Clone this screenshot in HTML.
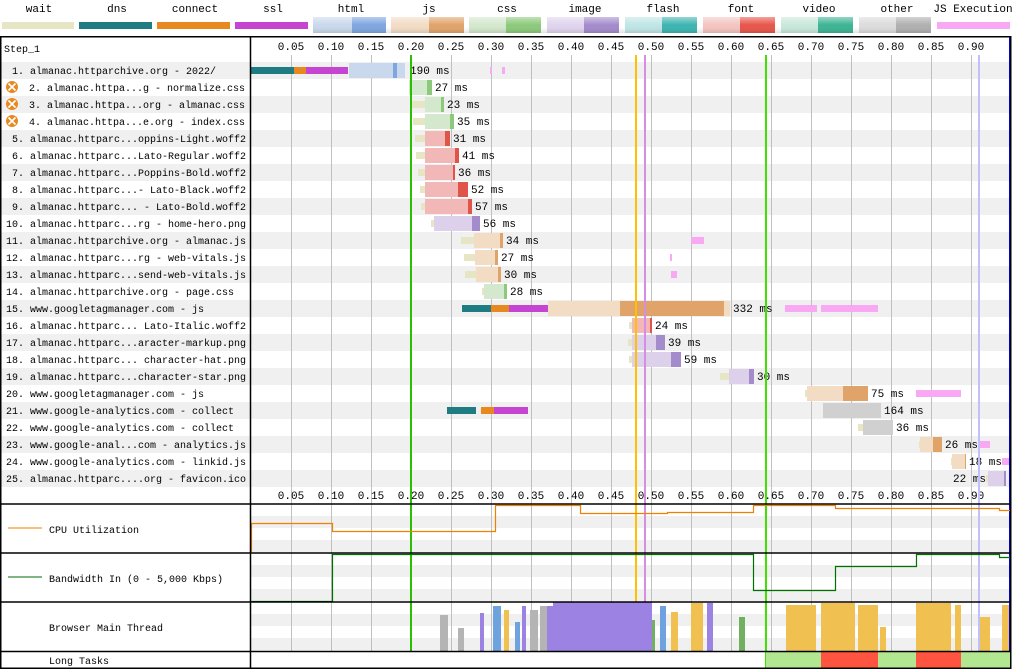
<!DOCTYPE html>
<html><head><meta charset="utf-8"><style>
body{margin:0;background:#fff;}
svg{display:block;font-family:"Liberation Mono","DejaVu Sans Mono",monospace;font-size:10px;}
</style></head><body>
<svg width="1012" height="669" viewBox="0 0 1012 669" xmlns="http://www.w3.org/2000/svg">
<defs>
<linearGradient id="g" x1="0" y1="0" x2="0" y2="1"><stop offset="0" stop-color="#fff" stop-opacity="0.45"/><stop offset="0.5" stop-color="#fff" stop-opacity="0"/><stop offset="1" stop-color="#000" stop-opacity="0.12"/></linearGradient>
</defs>
<!-- legend -->
<g text-anchor="middle" font-size="11">
<text x="39" y="12">wait</text><text x="117" y="12">dns</text><text x="195" y="12">connect</text><text x="273" y="12">ssl</text><text x="351" y="12">html</text><text x="429" y="12">js</text><text x="507" y="12">css</text><text x="585" y="12">image</text><text x="663" y="12">flash</text><text x="741" y="12">font</text><text x="819" y="12">video</text><text x="897" y="12">other</text><text x="973" y="12">JS Execution</text>
</g>
<rect x="2" y="22" width="72" height="7" fill="#e6e6c4"/>
<rect x="79" y="22" width="73" height="7" fill="#1f7c83"/>
<rect x="157" y="22" width="73" height="7" fill="#e8891f"/>
<rect x="235" y="22" width="73" height="7" fill="#c545d2"/>
<rect x="313" y="17" width="39" height="16" fill="#c9d8ec"/><rect x="352" y="17" width="34" height="16" fill="#7fa6e0"/>
<rect x="391" y="17" width="38" height="16" fill="#f2dcc4"/><rect x="429" y="17" width="35" height="16" fill="#e0a46a"/>
<rect x="469" y="17" width="37" height="16" fill="#d3e8cc"/><rect x="506" y="17" width="35" height="16" fill="#8cc97a"/>
<rect x="547" y="17" width="37" height="16" fill="#e0d4ee"/><rect x="584" y="17" width="35" height="16" fill="#a48bcc"/>
<rect x="625" y="17" width="37" height="16" fill="#bfe5e5"/><rect x="662" y="17" width="35" height="16" fill="#3cb4b0"/>
<rect x="703" y="17" width="37" height="16" fill="#f4c4c0"/><rect x="740" y="17" width="35" height="16" fill="#e8554a"/>
<rect x="781" y="17" width="37" height="16" fill="#c8e8dc"/><rect x="818" y="17" width="35" height="16" fill="#3cb494"/>
<rect x="859" y="17" width="37" height="16" fill="#dcdcdc"/><rect x="896" y="17" width="35" height="16" fill="#b0b0b0"/>
<rect x="937" y="22" width="73" height="7" fill="#f9a8f3"/>
<g><rect x="313" y="17" width="618" height="16" fill="url(#g)"/></g>

<!-- row stripes -->
<g fill="#f0f0f0">
<rect x="1" y="62" width="1009" height="17"/><rect x="1" y="96" width="1009" height="17"/><rect x="1" y="130" width="1009" height="17"/><rect x="1" y="164" width="1009" height="17"/><rect x="1" y="198" width="1009" height="17"/><rect x="1" y="232" width="1009" height="17"/><rect x="1" y="266" width="1009" height="17"/><rect x="1" y="300" width="1009" height="17"/><rect x="1" y="334" width="1009" height="17"/><rect x="1" y="368" width="1009" height="17"/><rect x="1" y="402" width="1009" height="17"/><rect x="1" y="436" width="1009" height="17"/><rect x="1" y="470" width="1009" height="17"/>
<rect x="251" y="516" width="759" height="12"/><rect x="251" y="540" width="759" height="12"/>
<rect x="251" y="565" width="759" height="12"/><rect x="251" y="589" width="759" height="12"/>
<rect x="251" y="614" width="759" height="12"/><rect x="251" y="638" width="759" height="12"/>
</g>
<!-- grid -->
<g stroke="#c0c0c0" stroke-width="1">
<path d="M291.5 55V651M331.5 55V651M371.5 55V651M411.5 55V651M451.5 55V651M491.5 55V651M531.5 55V651M571.5 55V651M611.5 55V651M651.5 55V651M691.5 55V651M731.5 55V651M771.5 55V651M811.5 55V651M851.5 55V651M891.5 55V651M931.5 55V651M971.5 55V651"/>
</g>
<g text-anchor="middle" font-size="11">
<text x="291" y="50">0.05</text><text x="331" y="50">0.10</text><text x="371" y="50">0.15</text><text x="411" y="50">0.20</text><text x="451" y="50">0.25</text><text x="491" y="50">0.30</text><text x="531" y="50">0.35</text><text x="571" y="50">0.40</text><text x="611" y="50">0.45</text><text x="651" y="50">0.50</text><text x="691" y="50">0.55</text><text x="731" y="50">0.60</text><text x="771" y="50">0.65</text><text x="811" y="50">0.70</text><text x="851" y="50">0.75</text><text x="891" y="50">0.80</text><text x="931" y="50">0.85</text><text x="971" y="50">0.90</text>
<text x="291" y="499">0.05</text><text x="331" y="499">0.10</text><text x="371" y="499">0.15</text><text x="411" y="499">0.20</text><text x="451" y="499">0.25</text><text x="491" y="499">0.30</text><text x="531" y="499">0.35</text><text x="571" y="499">0.40</text><text x="611" y="499">0.45</text><text x="651" y="499">0.50</text><text x="691" y="499">0.55</text><text x="731" y="499">0.60</text><text x="771" y="499">0.65</text><text x="811" y="499">0.70</text><text x="851" y="499">0.75</text><text x="891" y="499">0.80</text><text x="931" y="499">0.85</text><text x="971" y="499">0.90</text>
</g>

<!-- labels -->
<text x="4" y="52">Step_1</text>
<g>
<text x="12" y="74">1. almanac.httparchive.org - 2022/</text>
<text x="29" y="91">2. almanac.httpa...g - normalize.css</text>
<text x="29" y="108">3. almanac.httpa...org - almanac.css</text>
<text x="29" y="125">4. almanac.httpa...e.org - index.css</text>
<text x="12" y="142">5. almanac.httparc...oppins-Light.woff2</text>
<text x="12" y="159">6. almanac.httparc...Lato-Regular.woff2</text>
<text x="12" y="176">7. almanac.httparc...Poppins-Bold.woff2</text>
<text x="12" y="193">8. almanac.httparc...- Lato-Black.woff2</text>
<text x="12" y="210">9. almanac.httparc... - Lato-Bold.woff2</text>
<text x="6" y="227">10. almanac.httparc...rg - home-hero.png</text>
<text x="6" y="244">11. almanac.httparchive.org - almanac.js</text>
<text x="6" y="261">12. almanac.httparc...rg - web-vitals.js</text>
<text x="6" y="278">13. almanac.httparc...send-web-vitals.js</text>
<text x="6" y="295">14. almanac.httparchive.org - page.css</text>
<text x="6" y="312">15. www.googletagmanager.com - js</text>
<text x="6" y="329">16. almanac.httparc... Lato-Italic.woff2</text>
<text x="6" y="346">17. almanac.httparc...aracter-markup.png</text>
<text x="6" y="363">18. almanac.httparc... character-hat.png</text>
<text x="6" y="380">19. almanac.httparc...character-star.png</text>
<text x="6" y="397">20. www.googletagmanager.com - js</text>
<text x="6" y="414">21. www.google-analytics.com - collect</text>
<text x="6" y="431">22. www.google-analytics.com - collect</text>
<text x="6" y="448">23. www.google-anal...com - analytics.js</text>
<text x="6" y="465">24. www.google-analytics.com - linkid.js</text>
<text x="6" y="482">25. almanac.httparc....org - favicon.ico</text>
</g>
<g>
<circle cx="12" cy="87" r="6" fill="#e8891f"/><path d="M8.5 83.5l7 7M15.5 83.5l-7 7" stroke="#fff" stroke-width="1.6"/>
<circle cx="12" cy="104" r="6" fill="#e8891f"/><path d="M8.5 100.5l7 7M15.5 100.5l-7 7" stroke="#fff" stroke-width="1.6"/>
<circle cx="12" cy="121" r="6" fill="#e8891f"/><path d="M8.5 117.5l7 7M15.5 117.5l-7 7" stroke="#fff" stroke-width="1.6"/>
</g>

<!-- waits -->
<g fill="#e6e6c4">
<rect x="412" y="101" width="13" height="7"/><rect x="413" y="118" width="12" height="7"/><rect x="415" y="135" width="10" height="7"/><rect x="416" y="152" width="9" height="7"/><rect x="418" y="169" width="7" height="7"/><rect x="420" y="186" width="5" height="7"/><rect x="421" y="203" width="4" height="7"/><rect x="431" y="220" width="3" height="7"/><rect x="461" y="237" width="13" height="7"/><rect x="464" y="254" width="11" height="7"/><rect x="465" y="271" width="11" height="7"/><rect x="482" y="288" width="2" height="7"/>
<rect x="629" y="322" width="3" height="7"/><rect x="628" y="339" width="4" height="7"/><rect x="629" y="356" width="3" height="7"/><rect x="720" y="373" width="9" height="7"/><rect x="805" y="390" width="2" height="7"/><rect x="858" y="424" width="5" height="7"/><rect x="919" y="441" width="2" height="7"/><rect x="951" y="458" width="2" height="7"/><rect x="986" y="475" width="2" height="7"/>
</g>
<!-- connection bars -->
<rect x="251" y="67" width="43" height="7" fill="#1f7c83"/><rect x="294" y="67" width="12" height="7" fill="#e8891f"/><rect x="306" y="67" width="42" height="7" fill="#c545d2"/>
<rect x="462" y="305" width="29" height="7" fill="#1f7c83"/><rect x="491" y="305" width="18" height="7" fill="#e8891f"/><rect x="509" y="305" width="39" height="7" fill="#c545d2"/>
<rect x="447" y="407" width="29" height="7" fill="#1f7c83"/><rect x="481" y="407" width="13" height="7" fill="#e8891f"/><rect x="494" y="407" width="34" height="7" fill="#c545d2"/>
<!-- main bars -->
<g>
<rect x="349" y="63" width="56" height="15" fill="#c9d8ec"/><rect x="393" y="63" width="4" height="15" fill="#7fa6e0"/>
<rect x="409" y="80" width="23" height="15" fill="#d3e8cc"/><rect x="427" y="80" width="5" height="15" fill="#8cc97a"/>
<rect x="425" y="97" width="19" height="15" fill="#d3e8cc"/><rect x="441" y="97" width="3" height="15" fill="#8cc97a"/>
<rect x="425" y="114" width="29" height="15" fill="#d3e8cc"/><rect x="450" y="114" width="4" height="15" fill="#8cc97a"/>
<rect x="425" y="131" width="25" height="15" fill="#f2b8b8"/><rect x="445" y="131" width="5" height="15" fill="#e0554a"/>
<rect x="425" y="148" width="34" height="15" fill="#f2b8b8"/><rect x="455" y="148" width="4" height="15" fill="#e0554a"/>
<rect x="425" y="165" width="30" height="15" fill="#f2b8b8"/><rect x="453" y="165" width="2" height="15" fill="#e0554a"/>
<rect x="425" y="182" width="43" height="15" fill="#f2b8b8"/><rect x="458" y="182" width="10" height="15" fill="#e0554a"/>
<rect x="425" y="199" width="47" height="15" fill="#f2b8b8"/><rect x="468" y="199" width="4" height="15" fill="#e0554a"/>
<rect x="434" y="216" width="46" height="15" fill="#ddd0ea"/><rect x="472" y="216" width="8" height="15" fill="#a48bcc"/>
<rect x="474" y="233" width="29" height="15" fill="#f2dcc4"/><rect x="500" y="233" width="3" height="15" fill="#e0a46a"/>
<rect x="475" y="250" width="23" height="15" fill="#f2dcc4"/><rect x="495" y="250" width="3" height="15" fill="#e0a46a"/>
<rect x="476" y="267" width="25" height="15" fill="#f2dcc4"/><rect x="498" y="267" width="3" height="15" fill="#e0a46a"/>
<rect x="484" y="284" width="23" height="15" fill="#d3e8cc"/><rect x="504" y="284" width="3" height="15" fill="#8cc97a"/>
<rect x="548" y="301" width="182" height="15" fill="#f2dcc4"/><rect x="620" y="301" width="104" height="15" fill="#e0a46a"/>
<rect x="632" y="318" width="20" height="15" fill="#f2b8b8"/><rect x="650" y="318" width="2" height="15" fill="#e0554a"/>
<rect x="632" y="335" width="33" height="15" fill="#ddd0ea"/><rect x="656" y="335" width="9" height="15" fill="#a48bcc"/>
<rect x="632" y="352" width="49" height="15" fill="#ddd0ea"/><rect x="671" y="352" width="10" height="15" fill="#a48bcc"/>
<rect x="729" y="369" width="25" height="15" fill="#ddd0ea"/><rect x="749" y="369" width="5" height="15" fill="#a48bcc"/>
<rect x="807" y="386" width="61" height="15" fill="#f2dcc4"/><rect x="843" y="386" width="25" height="15" fill="#e0a46a"/>
<rect x="823" y="403" width="58" height="15" fill="#d0d0d0"/>
<rect x="863" y="420" width="30" height="15" fill="#d0d0d0"/>
<rect x="920" y="437" width="22" height="15" fill="#f2dcc4"/><rect x="933" y="437" width="9" height="15" fill="#e0a46a"/>
<rect x="952" y="454" width="14" height="15" fill="#f2dcc4"/><rect x="965" y="454" width="1" height="15" fill="#e0a46a"/>
<rect x="988" y="471" width="18" height="15" fill="#ddd0ea"/><rect x="1004" y="471" width="2" height="15" fill="#a48bcc"/>
</g>
<!-- js exec -->
<g fill="#f9a8f3">
<rect x="490" y="67" width="2" height="7"/><rect x="502" y="67" width="3" height="7"/>
<rect x="691" y="237" width="13" height="7"/><rect x="670" y="254" width="2" height="7"/><rect x="671" y="271" width="6" height="7"/>
<rect x="785" y="305" width="32" height="7"/><rect x="821" y="305" width="57" height="7"/>
<rect x="916" y="390" width="45" height="7"/><rect x="979" y="441" width="11" height="7"/><rect x="1002" y="458" width="8" height="7"/>
</g>
<g font-size="11">
<text x="410" y="74">190 ms</text><text x="435" y="91">27 ms</text><text x="447" y="108">23 ms</text><text x="457" y="125">35 ms</text><text x="453" y="142">31 ms</text><text x="462" y="159">41 ms</text><text x="458" y="176">36 ms</text><text x="471" y="193">52 ms</text><text x="475" y="210">57 ms</text><text x="483" y="227">56 ms</text><text x="506" y="244">34 ms</text><text x="501" y="261">27 ms</text><text x="504" y="278">30 ms</text><text x="510" y="295">28 ms</text><text x="733" y="312">332 ms</text><text x="655" y="329">24 ms</text><text x="668" y="346">39 ms</text><text x="684" y="363">59 ms</text><text x="757" y="380">30 ms</text><text x="871" y="397">75 ms</text><text x="884" y="414">164 ms</text><text x="896" y="431">36 ms</text><text x="945" y="448">26 ms</text><text x="969" y="465">18 ms</text><text x="953" y="482">22 ms</text>
</g>
<!-- event lines -->
<rect x="410" y="55" width="2" height="596" fill="#28c000"/>
<rect x="635" y="55" width="2" height="596" fill="#ffc000"/>
<rect x="644" y="55" width="2" height="596" fill="#d88ee0"/>
<rect x="765" y="55" width="2" height="614" fill="#40e000"/>
<rect x="978" y="55" width="2" height="596" fill="#c0c0ff"/>
<rect x="1009" y="36" width="2" height="615" fill="#0000e0"/>

<!-- CPU -->
<text x="49" y="533">CPU Utilization</text><path d="M8 528h34" stroke="#f08000" stroke-width="1"/>
<path d="M251.5 552V523.5H332.5V531.5H495.5V505.5H580.5V513.5H667.5V512.5H753.5V505.5H835.5V508.5H999.5V510.5H1010" fill="none" stroke="#f08000" stroke-width="1.2"/>
<!-- bandwidth -->
<text x="49" y="582">Bandwidth In (0 - 5,000 Kbps)</text><path d="M8 577h34" stroke="#006800"/>
<path d="M251.5 601.5H332.5V554.5H753.5V590.5H835.5V566.5H916.5V554.5H999.5V557.5H1010" fill="none" stroke="#007000" stroke-width="1.2"/>
<!-- main thread -->
<text x="49" y="631">Browser Main Thread</text>
<g fill="#b4b4b4"><rect x="440" y="615" width="8" height="36"/><rect x="458" y="628" width="6" height="23"/><rect x="530" y="610" width="8" height="41"/><rect x="540" y="606" width="8" height="45"/></g>
<g fill="#6fa3e0"><rect x="493" y="606" width="8" height="45"/><rect x="515" y="622" width="5" height="29"/><rect x="660" y="606" width="6" height="45"/></g>
<g fill="#f0c050"><rect x="504" y="610" width="5" height="41"/><rect x="671" y="612" width="7" height="39"/><rect x="691" y="603" width="12" height="48"/></g>
<g fill="#9b82e3"><rect x="480" y="613" width="4" height="38"/><rect x="522" y="606" width="4" height="45"/><rect x="547" y="606" width="6" height="45"/><rect x="553" y="602" width="99" height="49"/><rect x="707" y="603" width="6" height="48"/></g>
<g fill="#70b060"><rect x="739" y="617" width="6" height="34"/><rect x="652" y="620" width="3" height="31"/></g>
<g fill="#f0c050"><rect x="786" y="605" width="30" height="46"/><rect x="821" y="603" width="34" height="48"/><rect x="858" y="605" width="20" height="46"/><rect x="916" y="603" width="35" height="48"/><rect x="980" y="617" width="10" height="34"/><rect x="1002" y="605" width="7" height="46"/><rect x="880" y="627" width="6" height="24"/><rect x="955" y="605" width="6" height="46"/></g>
<!-- long tasks -->
<text x="49" y="664">Long Tasks</text>
<rect x="766" y="652" width="55" height="16" fill="#b3e690"/><rect x="821" y="652" width="57" height="16" fill="#ff5540"/><rect x="878" y="652" width="38" height="16" fill="#b3e690"/><rect x="916" y="652" width="45" height="16" fill="#ff5540"/><rect x="961" y="652" width="49" height="16" fill="#b3e690"/>
<!-- frames -->
<g stroke="#000" stroke-width="1.5" fill="none">
<rect x="0.75" y="36.75" width="1010" height="631.5"/>
<path d="M250.5 37V668M1 504H1011M1 553H1011M1 602H1011M1 651.5H1011"/>
</g>
</svg>
</body></html>
